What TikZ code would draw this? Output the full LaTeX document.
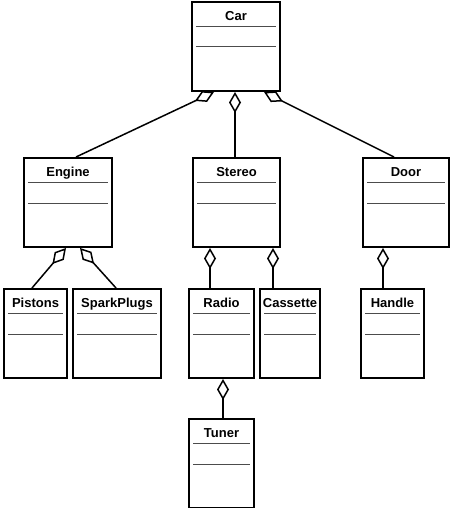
\documentclass[tikz,border=0pt]{standalone}
\usepackage{fontspec}
\setmainfont{Liberation Sans}
\usetikzlibrary{arrows.meta}

\begin{document}
\begin{tikzpicture}[x=1pt,y=-1pt,
  cls/.style={draw,line width=2pt,fill=white,anchor=north west,inner sep=0pt,
    text width=#1,align=center,text height=18.5pt,text depth=70.5pt,
    font=\fontsize{13}{15}\selectfont\bfseries},
  agg/.style={line width=1.5pt,line join=miter,
    -{Diamond[open,length=21pt,width=12pt,line width=1.5pt]}},
  compart/.style={line width=1pt,black!70}]
  \useasboundingbox (0,0) rectangle (450,508);

  \node[cls=88pt] (car) at (191,1) {Car};
  \node[cls=88pt] (engine) at (23,157) {Engine};
  \node[cls=87pt] (stereo) at (192,157) {Stereo};
  \node[cls=86pt] (door) at (362,157) {Door};
  \node[cls=63pt] (pistons) at (3,288) {Pistons};
  \node[cls=88pt] (sparkplugs) at (72,288) {SparkPlugs};
  \node[cls=65pt] (radio) at (188,288) {Radio};
  \node[cls=60pt] (cassette) at (259,288) {Cassette};
  \node[cls=63pt] (handle) at (360,288) {Handle};
  \node[cls=65pt] (tuner) at (188,418) {Tuner};

  \foreach \n in {car,engine,stereo,door,pistons,sparkplugs,radio,cassette,handle,tuner} {
    \draw[compart] ([xshift=5pt,yshift=-25.5pt]\n.north west) -- ([xshift=-5pt,yshift=-25.5pt]\n.north east);
    \draw[compart] ([xshift=5pt,yshift=-46pt]\n.north west) -- ([xshift=-5pt,yshift=-46pt]\n.north east);
  }

  \path [agg] ([xshift=8pt]engine.north) edge ([xshift=-22pt]car.south);
  \path [agg] ([xshift=-1.5pt]stereo.north) edge ([xshift=-1pt]car.south);
  \path [agg] ([xshift=-12pt]door.north) edge ([xshift=28pt]car.south);
  \path [agg] ([xshift=-3.5pt]pistons.north) edge ([xshift=-2pt]engine.south);
  \path [agg] ([xshift=-1pt]sparkplugs.north) edge ([xshift=12pt]engine.south);
  \path [agg] ([xshift=-11.5pt]radio.north) edge ([xshift=-26.5pt]stereo.south);
  \path [agg] ([xshift=-17pt]cassette.north) edge ([xshift=36.5pt]stereo.south);
  \path [agg] ([xshift=-9.5pt]handle.north) edge ([xshift=-23pt]door.south);
  \path [agg] ([xshift=1.5pt]tuner.north) edge ([xshift=1.5pt]radio.south);
\end{tikzpicture}
\end{document}
